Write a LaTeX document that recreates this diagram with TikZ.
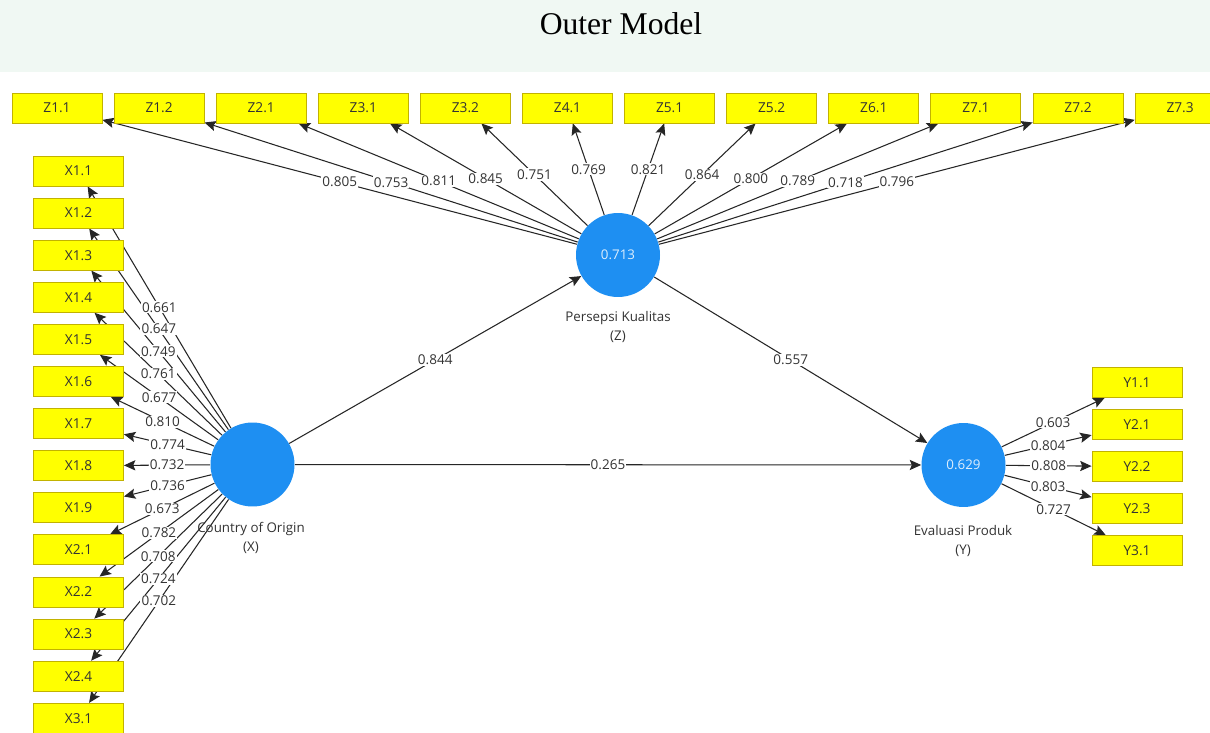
\documentclass[tikz,border=0pt]{standalone}
\usepackage{fontspec}
\setmainfont{Liberation Serif}
\newfontfamily\labfont{Open Sans}
\usetikzlibrary{arrows.meta}
\pgfdeclarelayer{back}
\pgfdeclarelayer{bg}
\pgfdeclarelayer{lbl}
\pgfsetlayers{back,bg,lbl,main}
\definecolor{boxyellow}{HTML}{FFFF00}
\definecolor{boxedge}{HTML}{C2B200}
\definecolor{lvblue}{HTML}{1E8FF2}
\definecolor{linegray}{HTML}{262626}
\definecolor{mint}{HTML}{F0F8F3}
\definecolor{txtgray}{HTML}{333333}
\begin{document}
\begin{tikzpicture}[x=0.02cm,y=-0.02cm,
  ind/.style={draw=boxedge, fill=boxyellow, line width=0.5pt, minimum width=1.8cm,
    minimum height=0.6cm, inner sep=0pt, font=\labfont\fontsize{7.8}{9}\selectfont, text=txtgray},
  lv/.style={circle, fill=lvblue, minimum size=1.68cm, inner sep=0pt,
    text=white!85!lvblue, font=\labfont\fontsize{7.6}{9}\selectfont},
  lvname/.style={align=center, font=\labfont\fontsize{7.6}{11.3}\selectfont, text=txtgray},
  conn/.style={draw=linegray, line width=0.6pt, -{Stealth[length=6.5pt,width=5.8pt,inset=1.2pt]}},
  wt/.style={fill=white, inner sep=0.6pt, font=\labfont\fontsize{7.7}{9}\selectfont, text=txtgray}]
\useasboundingbox (0,0) rectangle (1210,733);
\begin{pgfonlayer}{back}
  \fill[mint] (0,0) rectangle (1210,72);
  \fill[white] (0,72) rectangle (1210,733);
\end{pgfonlayer}
\node[font=\fontsize{18}{20}\selectfont] (title) at (621,24) {Outer Model};

% latent variables
\node[lv] (X) at (252.5,464.5) {};
\node[lv] (Z) at (618,255) {0.713};
\node[lv] (Y) at (963.5,465) {0.629};
\node[lvname] (Xname) at (251,538) {Country of Origin\\(X)};
\node[lvname] (Zname) at (618,327) {Persepsi Kualitas\\(Z)};
\node[lvname] (Yname) at (963,541) {Evaluasi Produk\\(Y)};

% indicators
\foreach \n/\t/\v [count=\i from 0] in {Z11/Z1.1/0.805,Z12/Z1.2/0.753,Z21/Z2.1/0.811,Z31/Z3.1/0.845,
  Z32/Z3.2/0.751,Z41/Z4.1/0.769,Z51/Z5.1/0.821,Z52/Z5.2/0.864,Z61/Z6.1/0.800,Z71/Z7.1/0.789,
  Z72/Z7.2/0.718,Z73/Z7.3/0.796}{
  \node[ind] (\n) at ({57+102.1*\i},108) {\t};
  \begin{pgfonlayer}{bg}
    \draw[conn] (Z) -- (\n) coordinate[midway] (m\n);
  \end{pgfonlayer}
  \begin{pgfonlayer}{lbl}
    \node[wt] (l\n) at (m\n) {\v};
  \end{pgfonlayer}
}
\foreach \n/\t/\v [count=\i from 0] in {X11/X1.1/0.661,X12/X1.2/0.647,X13/X1.3/0.749,X14/X1.4/0.761,
  X15/X1.5/0.677,X16/X1.6/0.810,X17/X1.7/0.774,X18/X1.8/0.732,X19/X1.9/0.736,X21/X2.1/0.673,
  X22/X2.2/0.782,X23/X2.3/0.708,X24/X2.4/0.724,X31/X3.1/0.702}{
  \node[ind] (\n) at (78.5,{171+42.1*\i}) {\t};
  \begin{pgfonlayer}{bg}
    \draw[conn] (X) -- (\n) coordinate[midway] (m\n);
  \end{pgfonlayer}
  \begin{pgfonlayer}{lbl}
    \node[wt] (l\n) at (m\n) {\v};
  \end{pgfonlayer}
}
\foreach \n/\t/\v [count=\i from 0] in {Y11/Y1.1/0.603,Y21/Y2.1/0.804,Y22/Y2.2/0.808,
  Y23/Y2.3/0.803,Y31/Y3.1/0.727}{
  \node[ind] (\n) at (1137,{382.5+42*\i}) {\t};
  \begin{pgfonlayer}{bg}
    \draw[conn] (Y) -- (\n) coordinate[midway] (m\n);
  \end{pgfonlayer}
  \begin{pgfonlayer}{lbl}
    \node[wt] (l\n) at (m\n) {\v};
  \end{pgfonlayer}
}

% structural paths
\begin{pgfonlayer}{bg}
  \draw[conn] (X) -- (Z) coordinate[midway] (mXZ);
  \draw[conn] (Z) -- (Y) coordinate[midway] (mZY);
  \draw[conn] (X) -- (Y) coordinate[midway] (mXY);
\end{pgfonlayer}
\begin{pgfonlayer}{lbl}
  \node[wt] (lXZ) at (mXZ) {0.844};
  \node[wt] (lZY) at (mZY) {0.557};
  \node[wt] (lXY) at (mXY) {0.265};
\end{pgfonlayer}
\end{tikzpicture}
\end{document}
